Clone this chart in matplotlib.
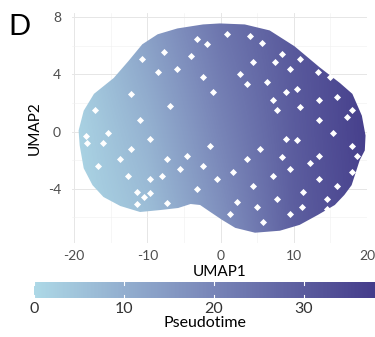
import numpy as np
import matplotlib
matplotlib.use("Agg")
import matplotlib.pyplot as plt
from matplotlib.colors import LinearSegmentedColormap, Normalize
from matplotlib.patches import Polygon
from matplotlib.ticker import MultipleLocator

plt.rcParams['font.family'] = ['Lato', 'DejaVu Sans']
plt.rcParams['axes.unicode_minus'] = False

# outline of the UMAP cloud (UMAP1, UMAP2)
outline_umap1 = [-2.4, -0.1, 3.3, 6.7, 10.1, 13.5, 16.3, 18.0, 19.3, 19.8, 19.7, 19.0,
                 17.9, 16.9, 15.6, 13.3, 10.8, 8.1, 4.7, 2.0, 0.2, -1.4, -2.8, -4.1,
                 -5.8, -8.2, -11.0, -13.7, -16.0, -17.5, -18.7, -19.25, -19.4, -18.7,
                 -17.3, -14.6, -12.6, -10.7, -8.6, -5.9]
outline_umap2 = [7.5, 7.57, 7.5, 7.08, 5.97, 4.51, 3.40, 2.64, 1.11, -0.28, -1.32, -2.01,
                 -3.75, -4.44, -5.14, -5.83, -6.53, -6.94, -7.08, -6.74, -6.18, -5.63, -5.14, -5.07,
                 -5.35, -5.49, -5.63, -5.21, -4.58, -3.75, -2.57, -0.97, 0.07, 1.46,
                 2.64, 3.75, 4.93, 6.11, 6.81, 7.22]

# estimated pseudotime across the cloud (rows: UMAP2 = -8, 0, 8)
grid_umap1 = [-20, -10, 0, 10, 20]
grid_umap2 = [-8, 0, 8]
pseudotime_grid = [[0, 5, 16, 29, 36],
                   [1, 9, 20, 30, 37],
                   [3, 14, 24, 31, 37]]

# white gaps between the points
gap_umap1 = [-5.9, -8.5, -7.8, -10.7, -4.1, -1.8, -3.2, -1.0, -12.3, -6.9, -17.1, -11.0, -2.4,
             0.9, 4.0, 5.6, 8.4, 7.4, 10.8, 13.3, 9.5, 4.4, 2.7, 14.9, 10.5, 9.0, 15.9, 13.5,
             7.1, 3.6, 6.3, 18.0, 17.2, 10.8, 13.5, 7.7,
             -18.4, -16.0, -15.4, -12.3, -9.6, -7.3, -4.6, -16.8, -12.7, -9.6, -8.0, -5.5,
             -3.2, -11.4, -10.5, -9.6, -0.5, -2.4, -1.4, -11.4, -7.3, -18.2, -13.7,
             8.4, 10.4, 15.3, 18.0, 18.6, 13.5, 12.2, 5.4, 1.7, 4.4, 7.1, 9.5, 11.2, 7.7,
             11.1, 14.5, 15.9, 13.5, 2.2, 5.0, 1.3, 5.8, 9.5, 14.6, 18.0, 3.6, 9.0]
gap_umap2 = [4.4, 4.2, 5.6, 5.1, 5.3, 6.1, 6.5, 2.8, 2.6, 1.8, 1.5, 0.8, 3.8,
             6.8, 6.7, 6.2, 5.4, 4.9, 5.1, 4.2, 4.4, 4.9, 4.0, 3.8, 3.0, 2.8, 2.4, 2.2,
             2.2, 3.3, 3.5, 1.5, 1.0, 1.7, 0.8, 1.5,
             -0.3, -0.8, -0.1, -1.2, -0.5, -1.9, -1.7, -2.4, -3.1, -3.3, -3.1, -2.6,
             -4.0, -4.2, -4.6, -4.3, -3.3, -2.4, -1.0, -5.1, -5.0, -0.8, -1.9,
             -1.8, -0.6, -0.1, -1.0, -1.7, -1.7, -2.2, -1.2, -2.8, -3.8, -3.1, -2.6, -4.2, -4.7,
             -5.3, -4.7, -3.8, -3.3, -4.9, -5.3, -5.8, -6.3, -5.8, -5.4, -2.8, -1.9, -0.5]

colorbar_ticks = [0, 10, 20, 30]
pseudotime_max = 37.9

cmap = LinearSegmentedColormap.from_list("pt", ["#ADD8E6", "#7B89BA", "#443C8A"])
norm = Normalize(vmin=0, vmax=pseudotime_max)

fig = plt.figure(figsize=(3.75, 3.37), dpi=100)
ax = fig.add_axes([72 / 375, 1 - 243 / 337, 295 / 375, 230 / 337])

# background grid
ax.set_axisbelow(True)
ax.xaxis.set_major_locator(MultipleLocator(10))
ax.xaxis.set_minor_locator(MultipleLocator(5))
ax.yaxis.set_major_locator(MultipleLocator(4))
ax.yaxis.set_minor_locator(MultipleLocator(2))
ax.grid(which='major', color='#e6e6e6', lw=0.7)
ax.grid(which='minor', color='#f0f0f0', lw=0.4)
for s in ax.spines.values():
    s.set_visible(False)
ax.tick_params(which='both', length=0)
ax.tick_params(axis='x', pad=5, labelsize=10, labelcolor='#4d4d4d')
ax.tick_params(axis='y', pad=8, labelsize=10, labelcolor='#4d4d4d')

# cloud coloured by pseudotime
dx = grid_umap1[1] - grid_umap1[0]
dy = grid_umap2[1] - grid_umap2[0]
img = ax.imshow(pseudotime_grid, origin='lower', cmap=cmap, norm=norm,
                interpolation='bilinear', aspect='auto', zorder=2,
                extent=(grid_umap1[0] - dx / 2, grid_umap1[-1] + dx / 2,
                        grid_umap2[0] - dy / 2, grid_umap2[-1] + dy / 2))
cloud = Polygon(np.column_stack([outline_umap1, outline_umap2]), closed=True,
                facecolor='none', edgecolor='none', transform=ax.transData)
ax.add_patch(cloud)
img.set_clip_path(cloud)
ax.scatter(gap_umap1, gap_umap2, s=13, marker='D', color='white', lw=0, zorder=3)

ax.set_xlim(-20.3, 19.9)
ax.set_ylim(-7.8, 8.3)
ax.set_xticks([-20, -10, 0, 10, 20])
ax.set_yticks([-4, 0, 4, 8])
ax.set_xlabel("UMAP1", fontsize=11, labelpad=2)
ax.set_ylabel("UMAP2", fontsize=11, labelpad=4)

fig.text(8 / 375, 1 - 35 / 337, "D", fontsize=21, va='baseline', ha='left')

# colour bar
cax = fig.add_axes([34 / 375, 1 - 298 / 337, 341 / 375, 16 / 337])
cb = fig.colorbar(plt.cm.ScalarMappable(norm=norm, cmap=cmap), cax=cax,
                  orientation='horizontal', ticks=colorbar_ticks)
cb.outline.set_visible(False)
cax.tick_params(length=0, pad=3, labelsize=11.5, labelcolor='#333333')
for t in colorbar_ticks:
    cax.plot([t, t], [0, 0.2], color='white', lw=0.8, transform=cax.get_xaxis_transform())
    cax.plot([t, t], [0.8, 1], color='white', lw=0.8, transform=cax.get_xaxis_transform())
cb.set_label("Pseudotime", fontsize=11.5, labelpad=0)

fig.savefig("out.png", dpi=100)
